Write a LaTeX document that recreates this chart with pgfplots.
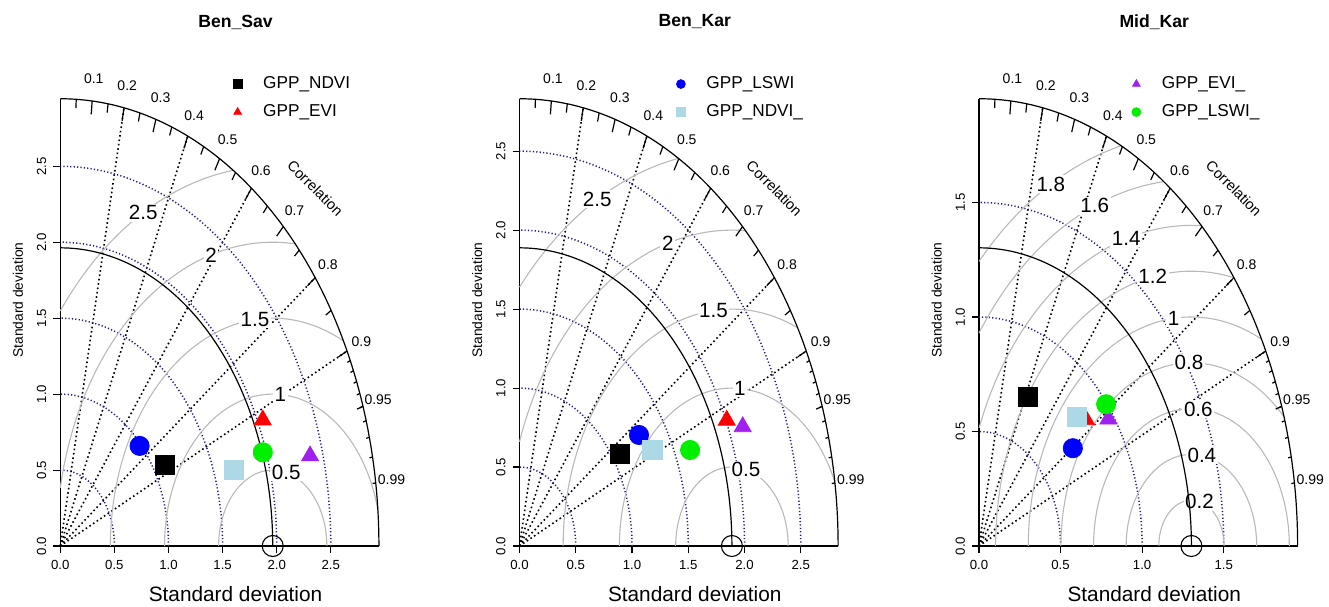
\documentclass[border=0pt]{standalone}
\usepackage{fontspec}
\setmainfont{Liberation Sans}
\usepackage{pgfplots}
\pgfplotsset{compat=1.18}

\definecolor{sdblue}{RGB}{30,30,135}
\definecolor{gamcol}{RGB}{185,185,185}
\definecolor{rpurple}{RGB}{160,32,240}
\definecolor{rlightblue}{RGB}{173,216,230}
\definecolor{rgreen}{RGB}{0,240,0}
\definecolor{rred}{RGB}{255,0,0}
\definecolor{rblue}{RGB}{0,0,255}

\tikzset{
  corrline/.style={black, line width=0.8pt, dash pattern=on 0.8pt off 1.4pt},
  frameline/.style={black, line width=0.6pt},
  gamlab/.style={fill=white, inner sep=0.8pt, font=\fontsize{10.3}{12}\selectfont},
  corlab/.style={inner sep=0pt, font=\fontsize{7}{8}\selectfont},
}
\pgfplotsset{
  sdarc/.style={sdblue, line width=0.75pt, dash pattern=on 0.6pt off 1.1pt, no markers, forget plot, samples=91},
  gamarc/.style={gamcol, line width=0.55pt, no markers, forget plot, samples=80},
  framearc/.style={black, line width=0.6pt, no markers, forget plot, samples=120},
  pt/.style={only marks, mark size=4.8pt, mark options={solid}},
  tri/.style={only marks, mark size=4.9pt, mark options={solid}},
  taylor/.style={
    scale only axis, width=175.25pt, height=246pt,
    xmin=0, ymin=0, clip=false, anchor=south west,
    axis x line*=bottom, axis y line*=left,
    axis line style={draw=none},
    tick align=outside, major tick length=3.5pt,
    tick style={black, line width=0.55pt},
    xticklabel style={/pgf/number format/fixed, /pgf/number format/fixed zerofill, /pgf/number format/precision=1, /pgf/number format/assume math mode=true, font=\fontsize{6.6}{7}\selectfont},
    yticklabel style={/pgf/number format/fixed, /pgf/number format/fixed zerofill, /pgf/number format/precision=1, /pgf/number format/assume math mode=true, font=\fontsize{6.6}{7}\selectfont, rotate=90, anchor=south},
    legend style={draw=none, fill=none, inner sep=0pt, anchor=north west, font=\fontsize{8.6}{10}\selectfont, row sep=5.5pt, column sep=8.3pt, nodes={inner sep=0.5pt}},
    legend cell align=left,
    legend image code/.code={\path[draw=none, fill=none] (-4pt,0pt) -- (4pt,0pt); \draw[##1, mark size=2.2pt] plot coordinates {(0pt,0pt)};},
  },
}

\newcommand\TaylorFrame{%
  \foreach \cv in {0.2,0.4,0.6,0.8,0.9}{%
    \edef\tmp{\noexpand\draw[corrline] (axis cs:0,0) -- (axis cs:{\M*\cv},{\M*sqrt(1-\cv*\cv)});}\tmp}%
  \draw[frameline] (axis cs:0,\M) -- (axis cs:0,0) -- (axis cs:\M,0);
  \foreach \sv in \sdlist {%
    \edef\tmp{\noexpand\addplot[sdarc, domain=0:90] ({\sv*cos(x)},{\sv*sin(x)});}\tmp}%
  \foreach \gv/\tv in \gamlist {%
    \pgfmathsetmacro\ca{max(-1,min(1,(\M*\M-\R*\R-\gv*\gv)/(2*\R*\gv)))}%
    \pgfmathsetmacro\tA{acos(\ca)}%
    \pgfmathsetmacro\tB{acos(max(-1,-\R/\gv))}%
    \edef\tmp{\noexpand\addplot[gamarc, domain=\tA:\tB] ({\R+\gv*cos(x)},{\gv*sin(x)});
      \noexpand\node[gamlab] at (axis cs:{\R+\gv*cos(\tv r)},{\gv*sin(\tv r)}) {\gv};}\tmp}%
  \addplot[framearc, domain=0:90] ({\M*cos(x)},{\M*sin(x)});
  \foreach \cv in {0.1,0.2,0.3,0.4,0.5,0.6,0.7,0.8,0.9}{%
    \edef\tmp{\noexpand\draw[frameline] (axis cs:{0.97*\M*\cv},{0.97*\M*sqrt(1-\cv*\cv)}) -- (axis cs:{\M*\cv},{\M*sqrt(1-\cv*\cv)});}\tmp}%
  \addplot[framearc, domain=0:90] ({\R*cos(x)},{\R*sin(x)});
  \foreach \cv in {0.1,0.2,0.3,0.4,0.5,0.6,0.7,0.8,0.9,0.95,0.99}{%
    \edef\tmp{\noexpand\node[corlab] at (axis cs:{1.05*\M*\cv},{1.05*\M*sqrt(1-\cv*\cv)}) {\cv};}\tmp}%
  \node[corlab, rotate=-45, font=\fontsize{7.3}{8}\selectfont] at (axis cs:{0.8*\M},{0.8*\M}) {Correlation};
  \foreach \cv in {0.05,0.15,0.25,0.35,0.45,0.55,0.65,0.75,0.85,0.95}{%
    \edef\tmp{\noexpand\draw[frameline] (axis cs:{0.98*\M*\cv},{0.98*\M*sqrt(1-\cv*\cv)}) -- (axis cs:{\M*\cv},{\M*sqrt(1-\cv*\cv)});}\tmp}%
  \foreach \cv in {0.91,0.92,0.93,0.94,0.95,0.96,0.97,0.98,0.99}{%
    \edef\tmp{\noexpand\draw[frameline] (axis cs:{0.99*\M*\cv},{0.99*\M*sqrt(1-\cv*\cv)}) -- (axis cs:{\M*\cv},{\M*sqrt(1-\cv*\cv)});}\tmp}%
  \node[font=\fontsize{10.4}{12}\selectfont] at (axis description cs:0.5,-0.0976) {Standard deviation};
  \node[font=\fontsize{6.9}{8}\selectfont, rotate=90] at (axis description cs:-0.1207,0.5) {Standard deviation};
}

\begin{document}
\begin{tikzpicture}
\useasboundingbox (0,0) rectangle (664.5pt,303pt);

% ---------------- Panel 1: Ben_Sav
\def\M{2.9445}\def\R{1.963}
\def\sdlist{0.5,1,1.5,2,2.5}
\def\gamlist{0.5/1.32,1/1.50,1.5/1.68,2/1.86,2.5/2.07}
\begin{axis}[taylor, at={(30.15pt,30pt)}, xmax=3.239, ymax=3.239,
  xtick={0,0.5,1,1.5,2,2.5}, ytick={0,0.5,1,1.5,2,2.5},
  legend style={at={(axis description cs:0.482,0.957)}}]
\TaylorFrame
\addplot[only marks, mark=o, mark size=5.25pt, black, line width=0.55pt, forget plot] coordinates {(1.963,0)};
\addplot[pt, mark=square*, black] coordinates {(0.967,0.534)};
\addlegendentry{GPP\_NDVI}
\addplot[tri, mark=triangle*, rred] coordinates {(1.871,0.829)};
\addlegendentry{GPP\_EVI}
\addplot[pt, mark=*, rblue, forget plot] coordinates {(0.733,0.659)};
\addplot[pt, mark=square*, rlightblue, forget plot] coordinates {(1.602,0.501)};
\addplot[tri, mark=triangle*, rpurple, forget plot] coordinates {(2.308,0.593)};
\addplot[pt, mark=*, rgreen, forget plot] coordinates {(1.871,0.617)};
\node[font=\bfseries\fontsize{8.8}{10}\selectfont] at (axis description cs:0.5,1.065) {Ben\_Sav};
\end{axis}

% ---------------- Panel 2: Ben_Kar
\def\M{2.832}\def\R{1.888}
\def\sdlist{0.5,1,1.5,2,2.5}
\def\gamlist{0.5/1.32,1/1.50,1.5/1.68,2/1.86,2.5/2.07}
\begin{axis}[taylor, at={(259.75pt,30pt)}, xmax=3.1152, ymax=3.1152,
  xtick={0,0.5,1,1.5,2,2.5}, ytick={0,0.5,1,1.5,2,2.5},
  legend style={at={(axis description cs:0.4365,0.957)}}]
\TaylorFrame
\addplot[only marks, mark=o, mark size=5.25pt, black, line width=0.55pt, forget plot] coordinates {(1.888,0)};
\addplot[pt, mark=square*, black, forget plot] coordinates {(0.893,0.581)};
\addplot[tri, mark=triangle*, rred, forget plot] coordinates {(1.842,0.796)};
\addplot[pt, mark=*, rblue] coordinates {(1.062,0.703)};
\addlegendentry{GPP\_LSWI}
\addplot[pt, mark=square*, rlightblue] coordinates {(1.181,0.608)};
\addlegendentry{GPP\_NDVI\_}
\addplot[tri, mark=triangle*, rpurple, forget plot] coordinates {(1.984,0.755)};
\addplot[pt, mark=*, rgreen, forget plot] coordinates {(1.516,0.608)};
\node[font=\bfseries\fontsize{8.8}{10}\selectfont] at (axis description cs:0.5,1.065) {Ben\_Kar};
\end{axis}

% ---------------- Panel 3: Mid_Kar
\def\M{1.953}\def\R{1.302}
\def\sdlist{0.5,1,1.5}
\def\gamlist{0.2/1.32,0.4/1.41,0.6/1.50,0.8/1.59,1/1.68,1.2/1.77,1.4/1.86,1.6/1.95,1.8/2.07}
\begin{axis}[taylor, at={(489.5pt,30pt)}, xmax=2.1483, ymax=2.1483,
  xtick={0,0.5,1,1.5}, ytick={0,0.5,1,1.5},
  legend style={at={(axis description cs:0.425,0.957)}}]
\TaylorFrame
\addplot[only marks, mark=o, mark size=5.25pt, black, line width=0.55pt, forget plot] coordinates {(1.302,0)};
\addplot[pt, mark=square*, black, forget plot] coordinates {(0.302,0.652)};
\addplot[tri, mark=triangle*, rred, forget plot] coordinates {(0.656,0.551)};
\addplot[pt, mark=*, rblue, forget plot] coordinates {(0.575,0.427)};
\addplot[pt, mark=square*, rlightblue, forget plot] coordinates {(0.599,0.565)};
\addplot[tri, mark=triangle*, rpurple] coordinates {(0.793,0.554)};
\addlegendentry{GPP\_EVI\_}
\addplot[pt, mark=*, rgreen] coordinates {(0.779,0.619)};
\addlegendentry{GPP\_LSWI\_}
\node[font=\bfseries\fontsize{8.8}{10}\selectfont] at (axis description cs:0.5,1.065) {Mid\_Kar};
\end{axis}
\end{tikzpicture}
\end{document}
